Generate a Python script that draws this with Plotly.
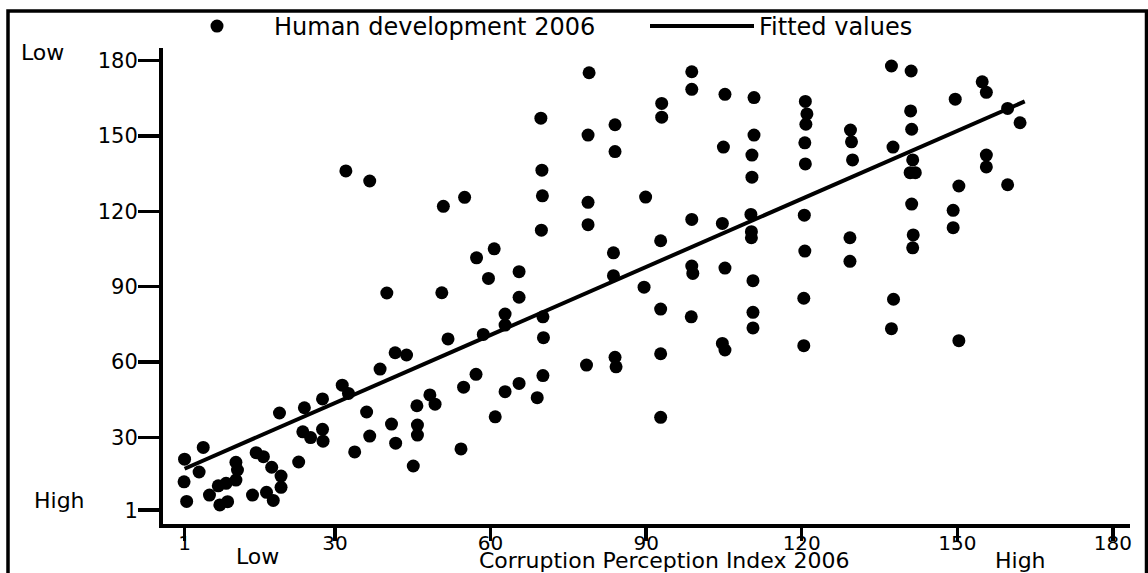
import plotly.graph_objects as go

# ---------------- data ----------------
cpi_rank = [
    51.8, 41.6, 43.8, 38.7, 31.4, 32.6, 27.6, 24.1, 19.3, 36.1, 48.3, 49.3, 45.8, 40.9, 45.9, 45.9,
    41.7, 36.7, 27.6, 23.8, 25.3, 27.7, 33.8, 45.1, 4.6, 1.0, 3.8, 0.9, 1.4, 5.8, 7.5, 9.0, 7.8, 9.3,
    10.9, 11.2, 10.9, 14.8, 16.2, 17.8, 19.6, 19.6, 16.8, 18.1, 14.1, 23.0,
    32.1, 36.7, 40.0,
    50.9, 55.0, 50.6, 57.3, 60.7, 59.6, 65.5, 65.5, 62.8, 62.8, 58.6, 57.2, 54.8, 62.8, 65.5, 69.0, 60.9, 54.3,
    69.7, 69.9, 70.0, 69.8, 70.1, 70.2, 70.1,
    79.0, 78.8, 78.8, 78.8, 78.5,
    84.0, 84.0, 83.7, 83.7, 84.0, 84.2,
    89.9, 89.6,
    93.0, 93.0, 92.8, 92.8, 92.8, 92.8,
    98.8, 98.8, 98.8, 98.8, 99.0, 98.7,
    105.2, 104.9, 104.7, 105.2, 104.7, 105.2,
    110.8, 110.8, 110.4, 110.4, 110.2, 110.3, 110.3, 110.6, 110.6, 110.6,
    120.7, 121.0, 120.8, 120.6, 120.7, 120.5, 120.6, 120.4, 120.4,
    129.4, 129.6, 129.8, 129.3, 129.3,
    137.3, 137.6, 137.7, 137.3,
    141.1, 141.0, 141.2, 141.4, 140.9, 141.9, 141.2, 141.5, 141.4,
    149.6, 150.3, 149.2, 149.2, 150.3,
    154.8, 155.6, 155.6, 155.6,
    159.7, 159.7, 162.1,
]
hdi_rank = [
    69.2, 63.7, 62.8, 57.2, 50.8, 47.5, 45.3, 41.8, 39.7, 40.1, 46.9, 43.2, 42.6, 35.3, 34.9, 30.9,
    27.7, 30.5, 33.2, 32.2, 29.9, 28.5, 24.2, 18.6, 26.0, 21.3, 16.2, 12.3, 4.5, 7.0, 10.7, 11.7, 3.1, 4.4,
    13.0, 17.0, 20.1, 23.9, 22.3, 18.1, 14.6, 10.1, 8.1, 4.9, 7.0, 20.2,
    136.1, 132.1, 87.5,
    122.0, 125.6, 87.6, 101.5, 105.1, 93.3, 96.0, 85.8, 79.1, 74.7, 71.0, 55.1, 50.0, 48.2, 51.5, 45.8, 38.2, 25.4,
    157.1, 136.4, 126.2, 112.5, 78.0, 69.7, 54.6,
    175.2, 150.4, 123.6, 114.7, 58.8,
    154.5, 143.8, 103.5, 94.4, 61.9, 58.1,
    125.7, 89.8,
    163.0, 157.5, 108.3, 81.1, 63.3, 38.0,
    175.6, 168.6, 116.8, 98.2, 95.3, 78.0,
    166.6, 145.6, 115.2, 97.4, 67.4, 64.8,
    165.3, 150.4, 142.4, 133.6, 118.8, 111.9, 109.5, 92.4, 79.8, 73.6,
    163.8, 158.8, 154.7, 147.3, 138.9, 118.5, 104.2, 85.4, 66.5,
    152.4, 147.7, 140.5, 109.5, 100.1,
    177.9, 145.6, 85.0, 73.3,
    175.9, 160.0, 152.7, 140.5, 135.4, 135.4, 122.9, 110.6, 105.5,
    164.7, 130.1, 120.4, 113.5, 68.5,
    171.6, 167.4, 142.4, 137.7,
    161.0, 130.6, 155.3,
]

# fitted values (end points of the drawn regression line)
fit_x = [1, 163]
fit_y = [17.5, 163.8]

tick_vals = [1, 30, 60, 90, 120, 150, 180]
tick_text = ["1", "30", "60", "90", "120", "150", "180"]

series_names = ["Human development 2006", "Fitted values"]
x_title = "Corruption Perception Index 2006"

# ---------------- layout geometry ----------------
W, H = 1148, 573
ML, MR, MT, MB = 163, 18, 48, 49
PW, PH = W - ML - MR, H - MT - MB


def px(x):
    return (x - ML) / PW


def py(y):
    return (H - MB - y) / PH


FONT = "DejaVu Sans"

fig = go.Figure()
fig.add_trace(go.Scatter(
    x=cpi_rank, y=hdi_rank, mode="markers", name=series_names[0],
    marker=dict(color="black", size=13, line=dict(width=0)),
))
fig.add_trace(go.Scatter(
    x=fit_x, y=fit_y, mode="lines", name=series_names[1],
    line=dict(color="black", width=4),
))

axis_common = dict(
    tickvals=tick_vals, ticktext=tick_text, ticks="outside", tickwidth=3.5,
    tickcolor="black", showline=True, linecolor="black", linewidth=4,
    showgrid=False, zeroline=False,
)

fig.update_layout(
    width=W, height=H,
    margin=dict(l=ML, r=MR, t=MT, b=MB, pad=0, autoexpand=False),
    paper_bgcolor="white", plot_bgcolor="white",
    xaxis=dict(range=[-3.16, 183.3], ticklen=13, ticklabelstandoff=-15,
               tickfont=dict(family=FONT, size=20, color="black"), **axis_common),
    yaxis=dict(range=[-4.5, 185.06], ticklen=21, ticklabelstandoff=-4,
               tickfont=dict(family=FONT, size=21, color="black"), **axis_common),
    showlegend=True,
    legend=dict(
        orientation="h", xref="container", yref="container",
        x=160 / W, y=1 - 4 / H, xanchor="left", yanchor="top",
        itemwidth=104, entrywidth=366, entrywidthmode="pixels",
        font=dict(family=FONT, size=24, color="black"),
        bgcolor="rgba(0,0,0,0)", borderwidth=0, itemclick=False,
    ),
)

# outer frame
fig.add_shape(type="rect", xref="paper", yref="paper",
              x0=px(8), x1=px(1146.5), y0=py(585), y1=py(11),
              line=dict(color="black", width=3.5), fillcolor="rgba(0,0,0,0)", layer="above")

ann_font = dict(family=FONT, size=22, color="black")
annotations = [
    dict(text="Low", x=px(42), y=py(53)),
    dict(text="High", x=px(59), y=py(500)),
    dict(text="Low", x=px(257), y=py(556)),
    dict(text="High", x=px(1020), y=py(560)),
]
for a in annotations:
    fig.add_annotation(xref="paper", yref="paper", showarrow=False,
                       xanchor="center", yanchor="middle", font=ann_font, **a)

fig.add_annotation(text=x_title, xref="paper", yref="paper", x=px(664), y=py(560),
                   showarrow=False, xanchor="center", yanchor="middle",
                   font=dict(family=FONT, size=22, color="black"))

fig.write_html(
    "out.html",
    config={"displayModeBar": False, "staticPlot": True},
    post_script="document.body.style.margin='0';document.body.style.overflow='hidden';",
)
